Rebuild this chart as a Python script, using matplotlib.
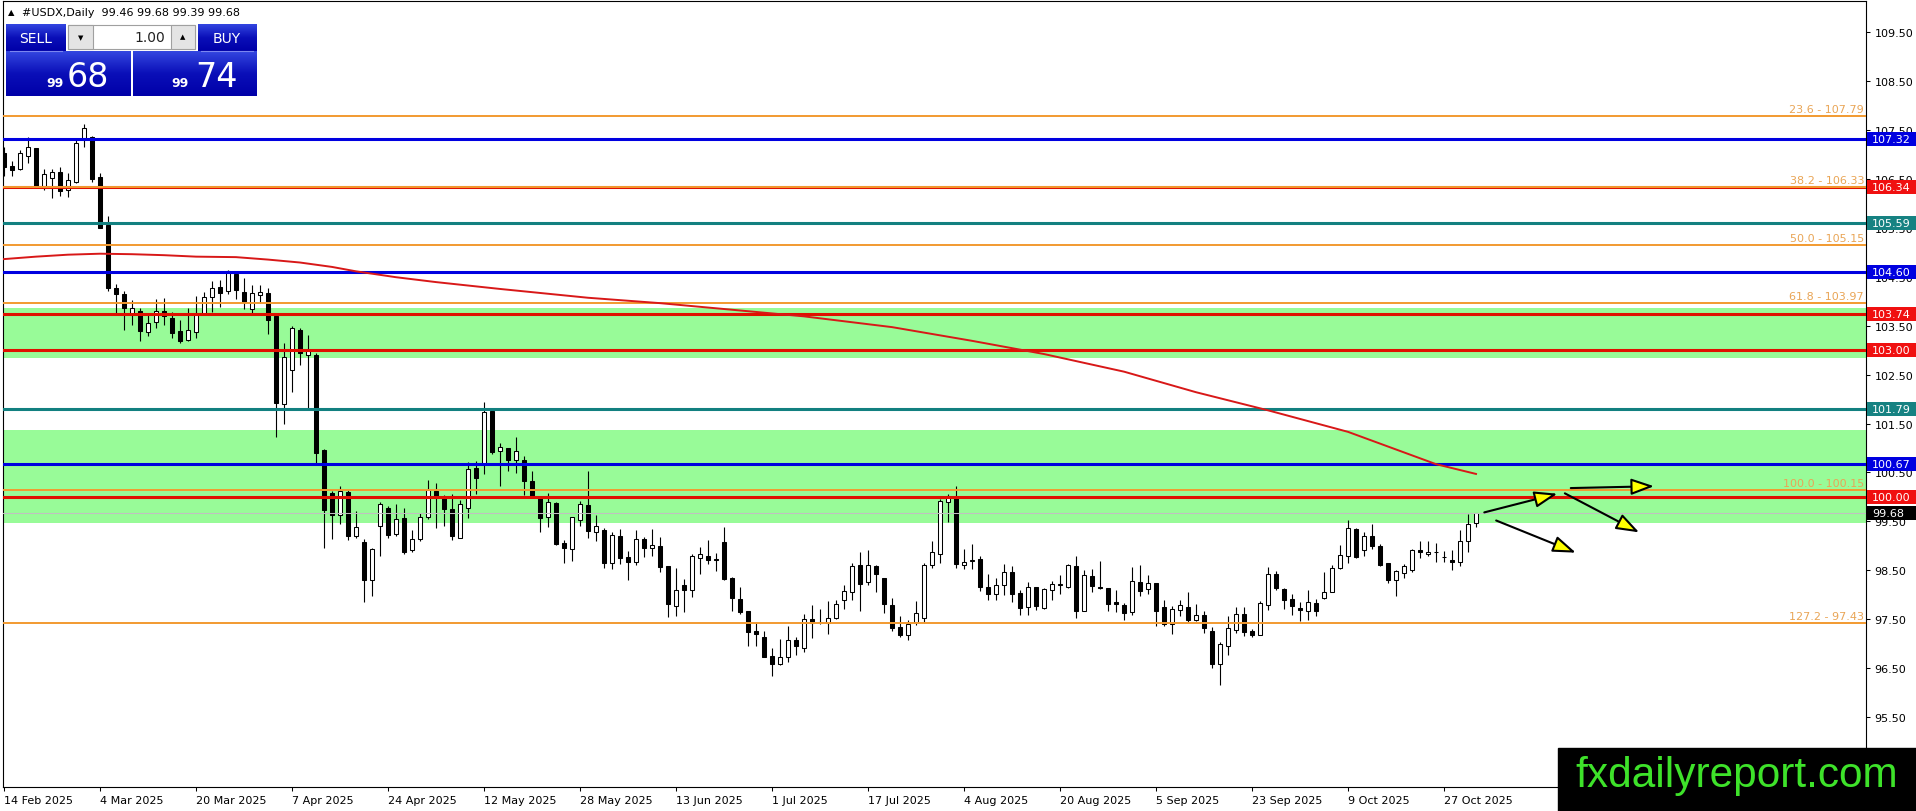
import numpy as np
import pandas as pd
import matplotlib
matplotlib.use("Agg")
import matplotlib.pyplot as plt
from matplotlib.patches import Rectangle, FancyArrowPatch
from matplotlib.colors import LinearSegmentedColormap
from matplotlib.transforms import blended_transform_factory

# ---------------- data ----------------
dates = pd.bdate_range("2025-02-14", "2025-10-31").drop(pd.Timestamp("2025-04-18"))

opens = [107.02, 106.76, 106.70, 106.97, 107.12, 106.35, 106.51, 106.64, 106.28, 106.43,
         107.33, 107.35, 106.54, 105.56, 104.26, 104.14, 103.72, 103.79, 103.38, 103.57,
         103.79, 103.65, 103.40, 103.21, 103.38, 103.75, 104.08, 104.29, 104.21, 104.56,
         104.18, 103.85, 104.12, 104.16, 103.69, 101.90, 102.60, 103.42, 102.91, 102.91,
         100.95, 100.09, 99.63, 100.11, 99.21, 99.07, 98.30, 99.40, 99.77, 99.25,
         99.56, 98.91, 99.14, 99.58, 100.12, 99.99, 99.75, 99.17, 99.78, 100.60,
         100.69, 101.75, 100.93, 100.99, 100.75, 100.76, 100.33, 99.99, 99.58, 99.88,
         99.05, 98.94, 99.52, 99.84, 99.28, 99.32, 98.65, 99.20, 98.77, 98.68,
         99.14, 98.95, 98.99, 98.58, 97.78, 98.21, 98.09, 98.76, 98.80, 98.74,
         99.07, 98.34, 97.91, 97.67, 97.26, 97.14, 96.74, 96.59, 96.73, 97.07,
         96.91, 97.51, 97.45, 97.42, 97.53, 97.90, 98.05, 98.61, 98.26, 98.58,
         98.34, 97.80, 97.34, 97.17, 97.45, 97.53, 98.61, 98.84, 99.90, 99.97,
         98.60, 98.70, 98.73, 98.17, 98.02, 98.20, 98.46, 98.04, 97.75, 98.15,
         97.74, 98.09, 98.21, 98.17, 98.58, 97.66, 98.38, 98.17, 98.13, 97.86,
         97.79, 97.64, 98.26, 98.11, 98.24, 97.75, 97.40, 97.70, 97.76, 97.48,
         97.58, 97.27, 96.59, 96.96, 97.29, 97.60, 97.27, 97.17, 97.80, 98.42,
         98.12, 97.91, 97.74, 97.66, 97.83, 97.93, 98.06, 98.54, 98.79, 99.35,
         98.91, 99.20, 98.99, 98.64, 98.30, 98.45, 98.50, 98.91, 98.84, 98.88,
         98.77, 98.71, 98.68, 99.09, 99.46]
highs = [107.15, 106.87, 107.09, 107.35, 107.13, 106.70, 106.70, 106.75, 106.61, 107.29,
         107.62, 107.37, 106.61, 105.74, 104.36, 104.20, 104.02, 103.86, 103.75, 104.04,
         104.07, 103.78, 103.62, 103.87, 104.11, 104.18, 104.41, 104.43, 104.63, 104.60,
         104.47, 104.34, 104.33, 104.26, 103.71, 103.14, 103.50, 103.45, 103.30, 102.95,
         100.98, 100.12, 100.23, 100.14, 99.71, 99.15, 98.96, 99.89, 99.82, 99.85,
         99.78, 99.32, 99.67, 100.34, 100.29, 100.04, 100.05, 99.94, 100.71, 100.73,
         101.95, 101.78, 101.10, 101.00, 101.22, 100.83, 100.54, 100.00, 100.08, 99.89,
         99.11, 99.60, 99.92, 100.52, 99.63, 99.37, 99.28, 99.35, 98.89, 99.32,
         99.18, 99.35, 99.18, 98.58, 98.54, 98.32, 98.84, 98.98, 99.11, 98.85,
         99.39, 98.36, 98.16, 97.67, 97.45, 97.27, 96.91, 97.10, 97.37, 97.14,
         97.61, 97.79, 97.71, 97.87, 97.90, 98.20, 98.65, 98.87, 98.91, 98.60,
         98.34, 97.94, 97.56, 97.48, 97.87, 98.65, 99.10, 99.95, 100.05, 100.22,
         98.94, 99.03, 98.80, 98.43, 98.35, 98.62, 98.58, 98.09, 98.27, 98.15,
         98.13, 98.28, 98.41, 98.62, 98.80, 98.51, 98.53, 98.69, 98.13, 98.09,
         97.83, 98.57, 98.60, 98.41, 98.24, 97.89, 97.78, 97.89, 98.05, 97.81,
         97.66, 97.34, 97.04, 97.56, 97.76, 97.76, 97.30, 97.87, 98.57, 98.49,
         98.14, 98.02, 97.85, 98.09, 97.92, 98.46, 98.61, 99.02, 99.52, 99.37,
         99.29, 99.44, 99.03, 98.65, 98.50, 98.62, 98.94, 99.10, 99.10, 99.06,
         98.90, 98.92, 99.32, 99.66, 99.68]
lows = [106.55, 106.55, 106.68, 106.83, 106.35, 106.28, 106.10, 106.14, 106.13, 106.42,
        107.15, 106.43, 105.49, 104.20, 103.74, 103.42, 103.51, 103.18, 103.29, 103.46,
        103.51, 103.25, 103.15, 103.18, 103.25, 103.71, 103.78, 103.89, 104.14, 104.04,
        103.85, 103.75, 103.97, 103.32, 101.22, 101.50, 102.15, 102.70, 101.80, 100.69,
        98.96, 99.15, 99.44, 99.11, 99.17, 97.86, 97.97, 98.80, 99.17, 99.21,
        98.84, 98.88, 99.10, 99.55, 99.36, 99.41, 99.11, 99.17, 99.56, 100.05,
        100.46, 100.87, 100.22, 100.54, 100.48, 100.03, 100.00, 99.29, 99.39, 99.02,
        98.64, 98.70, 99.40, 99.17, 99.09, 98.55, 98.53, 98.62, 98.30, 98.60,
        98.77, 98.80, 98.47, 97.55, 97.57, 97.64, 97.96, 98.43, 98.62, 98.49,
        98.30, 97.66, 97.60, 96.95, 96.95, 96.72, 96.34, 96.57, 96.63, 96.78,
        96.84, 97.11, 97.41, 97.19, 97.51, 97.71, 97.89, 97.66, 98.20, 98.05,
        97.63, 97.26, 97.13, 97.07, 97.38, 97.45, 98.54, 98.64, 99.48, 98.55,
        98.53, 98.53, 98.08, 97.90, 97.90, 97.99, 97.85, 97.58, 97.58, 97.68,
        97.72, 97.89, 98.02, 98.13, 97.52, 97.66, 98.05, 98.11, 97.67, 97.64,
        97.49, 97.58, 97.97, 98.02, 97.37, 97.36, 97.19, 97.56, 97.45, 97.47,
        97.21, 96.51, 96.16, 96.77, 97.22, 97.15, 97.14, 97.17, 97.70, 98.09,
        97.71, 97.59, 97.47, 97.48, 97.56, 97.91, 98.05, 98.52, 98.65, 98.76,
        98.79, 98.94, 98.59, 98.24, 97.98, 98.34, 98.46, 98.76, 98.80, 98.68,
        98.68, 98.51, 98.58, 98.87, 99.39]
closes = [106.75, 106.69, 107.02, 107.15, 106.35, 106.60, 106.64, 106.25, 106.47, 107.24,
          107.53, 106.50, 105.50, 104.26, 104.15, 103.86, 103.87, 103.39, 103.55, 103.79,
          103.69, 103.36, 103.18, 103.42, 103.71, 104.09, 104.27, 104.16, 104.62, 104.23,
          103.98, 104.16, 104.18, 103.61, 101.91, 102.85, 103.46, 102.94, 102.98, 100.90,
          99.73, 99.64, 100.12, 99.21, 99.39, 98.31, 98.94, 99.85, 99.22, 99.55,
          98.88, 99.15, 99.58, 100.14, 100.00, 99.75, 99.21, 99.85, 100.58, 100.38,
          101.74, 100.91, 101.03, 100.76, 100.94, 100.33, 100.01, 99.56, 99.90, 99.03,
          98.95, 99.58, 99.85, 99.30, 99.40, 98.64, 99.22, 98.76, 98.68, 99.15,
          98.96, 99.02, 98.57, 97.82, 98.09, 98.09, 98.79, 98.83, 98.72, 98.72,
          98.32, 97.93, 97.64, 97.25, 97.19, 96.72, 96.58, 96.72, 97.07, 96.95,
          97.51, 97.42, 97.45, 97.53, 97.82, 98.08, 98.58, 98.23, 98.60, 98.42,
          97.81, 97.32, 97.17, 97.41, 97.63, 98.61, 98.87, 99.92, 99.99, 98.62,
          98.68, 98.71, 98.16, 98.02, 98.21, 98.46, 98.01, 97.74, 98.15, 97.78,
          98.11, 98.23, 98.22, 98.60, 97.66, 98.41, 98.19, 98.13, 97.82, 97.81,
          97.62, 98.28, 98.08, 98.24, 97.67, 97.40, 97.72, 97.80, 97.49, 97.59,
          97.32, 96.59, 96.99, 97.32, 97.60, 97.25, 97.18, 97.83, 98.42, 98.13,
          97.89, 97.78, 97.68, 97.85, 97.66, 98.05, 98.54, 98.81, 99.36, 98.77,
          99.21, 99.00, 98.61, 98.31, 98.49, 98.58, 98.92, 98.87, 98.88, 98.88,
          98.77, 98.68, 99.09, 99.45, 99.68]

ma_idx = [0, 4, 8, 12, 16, 20, 24, 29, 33, 37, 41, 44, 49, 54, 58, 62, 73, 82, 92,
          100, 111, 121, 130, 140, 149, 158, 168, 179, 184]
ma_val = [104.86, 104.91, 104.95, 104.97, 104.96, 104.94, 104.91, 104.90, 104.85, 104.79,
          104.70, 104.61, 104.49, 104.39, 104.32, 104.25, 104.07, 103.96, 103.81,
          103.69, 103.47, 103.19, 102.92, 102.56, 102.14, 101.77, 101.33, 100.67, 100.47]

blue_levels = [107.32, 104.60, 100.67]
red_levels = [106.34, 103.74, 103.00, 100.00]
teal_levels = [105.59, 101.79]
fib_pct = ["23.6", "38.2", "50.0", "61.8", "100.0", "127.2"]
fib_levels = [107.79, 106.33, 105.15, 103.97, 100.15, 97.43]
zones = [(102.845, 103.855), (99.47, 101.37)]
bid, ask = 99.68, 99.74
header = "#USDX,Daily  99.46 99.68 99.39 99.68"

# arrows (bar index, price)
arrows = [((184.7, 99.67), (194.5, 100.08)),
          ((195.5, 100.18), (206.6, 100.22)),
          ((194.8, 100.10), (204.7, 99.25)),
          ((186.2, 99.54), (196.8, 98.84))]

# ---------------- figure ----------------
W, H = 1916, 812
fig = plt.figure(figsize=(W / 100, H / 100), dpi=100)
fig.patch.set_facecolor("white")
plt.rcParams["font.family"] = ["DejaVu Sans"]

L, R, T, B = 3, 1866, 2, 788
ax = fig.add_axes([L / W, (H - B) / H, (R - L) / W, (B - T) / H])
ppu = 48.94
ytop = 107.32 + (139.7 - T) / ppu
ybot = 107.32 - (B - 139.7) / ppu
ax.set_ylim(ybot, ytop)
ax.set_xlim(-0.125, 232.75)

BLUE, RED, TEAL = "#0000e0", "#e01000", "#128080"
FIBC, FIBT = "#f29a30", "#e9a556"

for lo, hi in zones:
    ax.axhspan(lo, hi, color="#98fb98", lw=0, zorder=0.5)

O = np.array(opens); Hh = np.array(highs); Lo = np.array(lows); C = np.array(closes)
n = len(O)
x = np.arange(n)
ax.vlines(x, Lo, Hh, color="black", lw=0.8, zorder=5)
up = C >= O
ax.bar(x, np.abs(C - O), bottom=np.minimum(O, C), width=0.55,
       color=np.where(up, "white", "black"), edgecolor="black", linewidth=0.75, zorder=6)

ax.axhline(bid, color="#c0c0c0", lw=0.75, zorder=6.5)
for v in teal_levels:
    ax.axhline(v, color=TEAL, lw=2.2, zorder=7)
for v in blue_levels:
    ax.axhline(v, color=BLUE, lw=2.2, zorder=7)
for v in red_levels:
    ax.axhline(v, color=RED, lw=2.2, zorder=7)
for v in fib_levels:
    ax.axhline(v, color=FIBC, lw=1.4, zorder=7.5)

ax.plot(ma_idx, ma_val, color="#d81818", lw=1.4, zorder=8)

btr = blended_transform_factory(ax.transAxes, ax.transData)
for p, v in zip(fib_pct, fib_levels):
    ax.annotate(f"{p} - {v:.2f}", xy=(1, v), xycoords=btr, xytext=(-2, 2),
                textcoords="offset pixels", ha="right", va="bottom",
                color=FIBT, fontsize=8, zorder=9)

for (s, e) in arrows:
    ax.add_patch(FancyArrowPatch(s, e, arrowstyle="-|>,head_length=1.4,head_width=0.5",
                                 mutation_scale=10, facecolor="#ffff00", edgecolor="black",
                                 lw=1.5, zorder=10))

ax.set_xticks(np.arange(0, n, 12))
ax.set_xticklabels([f"{d.day} {d.strftime('%b %Y')}" for d in dates[::12]],
                   ha="left", fontsize=8)
ax.yaxis.tick_right()
yt = np.arange(95.5, 110.0, 1.0)
ax.set_yticks(yt)
ax.set_yticklabels([f"{v:.2f}" for v in yt], fontsize=8)
ax.tick_params(axis="both", direction="out", length=3, width=0.75, pad=3, colors="black")
for sp in ax.spines.values():
    sp.set_linewidth(0.8)
    sp.set_color("black")

# right-side price boxes
rax = fig.add_axes([R / W, (H - B) / H, (W - R) / W, (B - T) / H])
rax.set_ylim(ybot, ytop)
rax.set_xlim(0, W - R)
rax.axis("off")
rax.patch.set_alpha(0)
hh = 7 / ppu
boxes = [(v, BLUE) for v in blue_levels] + [(v, "#f01010") for v in red_levels] + \
        [(v, "#168282") for v in teal_levels] + [(bid, "black")]
for v, c in boxes:
    rax.add_patch(Rectangle((1, v - hh), W - R, 2 * hh, color=c, lw=0, clip_on=False))
    rax.text(6, v, f"{v:.2f}", color="white", fontsize=8, va="center", ha="left")

# overlay in pixel coordinates
ov = fig.add_axes([0, 0, 1, 1])
ov.axis("off")
ov.patch.set_alpha(0)
ov.set_autoscale_on(False)
ov.set_xlim(0, W)
ov.set_ylim(H, 0)

ov.text(11, 12.5, "\u25b2", fontsize=6, ha="center", va="center", color="black")
ov.text(22, 12.5, header, fontsize=8, ha="left", va="center", color="black")

grad_cmap = LinearSegmentedColormap.from_list("g", ["#3346e0", "#0a0fb8", "#0000a8"])
grad = np.linspace(0, 1, 64).reshape(-1, 1)


def gbox(x0, y0, x1, y1):
    ov.imshow(grad, extent=(x0, x1, y1, y0), aspect="auto", cmap=grad_cmap,
              origin="upper", zorder=2, interpolation="bilinear")


gbox(6, 25, 65.3, 51.5)
gbox(197.7, 25, 256.7, 51.5)
gbox(6, 52.5, 130.7, 97)
gbox(133.3, 52.5, 256.7, 97)
ov.plot([10, 62], [51.5, 51.5], color="#7b86f0", lw=0.8, zorder=3)
ov.plot([201, 253], [51.5, 51.5], color="#7b86f0", lw=0.8, zorder=3)

ov.add_patch(Rectangle((68.3, 25.7), 126.7, 24.3, facecolor="white", edgecolor="#a0a0a0", lw=0.8, zorder=2))
ov.add_patch(Rectangle((68.3, 25.7), 24.4, 24.3, facecolor="#e4e4e4", edgecolor="#a0a0a0", lw=0.8, zorder=3))
ov.add_patch(Rectangle((170.7, 25.7), 24.3, 24.3, facecolor="#e4e4e4", edgecolor="#a0a0a0", lw=0.8, zorder=3))
ov.text(80.5, 38, "\u25bc", fontsize=5, ha="center", va="center", color="black", zorder=4)
ov.text(183, 37.5, "\u25b2", fontsize=5, ha="center", va="center", color="black", zorder=4)
ov.text(165, 38, "1.00", fontsize=10, ha="right", va="center", color="#222222", zorder=4)

ov.text(35.5, 39, "SELL", fontsize=10, ha="center", va="center", color="white", zorder=4)
ov.text(227, 39, "BUY", fontsize=10, ha="center", va="center", color="white", zorder=4)
b_int, b_dec = f"{bid:.2f}".split(".")
a_int, a_dec = f"{ask:.2f}".split(".")
ov.text(55, 87.3, b_int, fontsize=9, fontweight="bold", ha="center", va="baseline", color="white", zorder=4)
ov.text(88, 87.3, b_dec, fontsize=24, ha="center", va="baseline", color="white", zorder=4)
ov.text(180.5, 87.3, a_int, fontsize=9, fontweight="bold", ha="center", va="baseline", color="white", zorder=4)
ov.text(216.5, 87.3, a_dec, fontsize=24, ha="center", va="baseline", color="white", zorder=4)

ov.add_patch(Rectangle((1558, 749), W - 1558, H - 749, color="black", zorder=5))
ov.text(1737, 776, "fxdailyreport.com", fontsize=30.5, family="Liberation Sans",
        ha="center", va="center", color="#3ee22a", zorder=6)

ov.set_xlim(0, W)
ov.set_ylim(H, 0)

fig.savefig("out.png", dpi=100)
